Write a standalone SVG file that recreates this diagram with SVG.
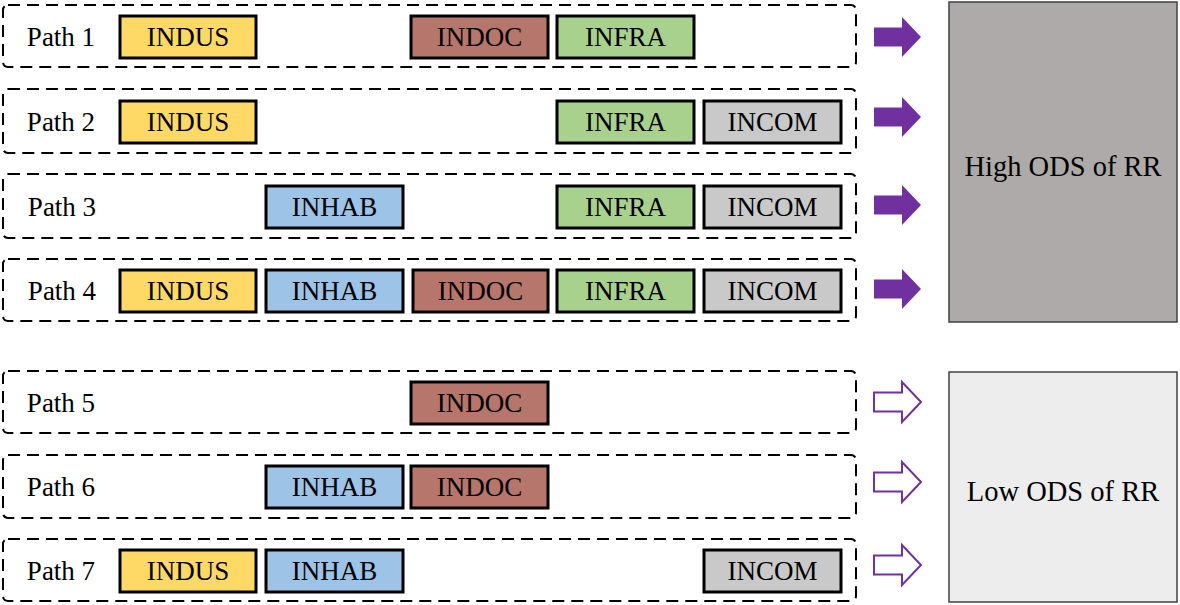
<svg xmlns="http://www.w3.org/2000/svg" width="1180" height="605" viewBox="0 0 1180 605">
<style>
.row{fill:#fff;stroke:#000;stroke-width:2;stroke-dasharray:12 7}
.b{stroke:#000;stroke-width:3}
.indus{fill:#FFD966}.inhab{fill:#9DC3E6}.indoc{fill:#B7766B}.infra{fill:#A9D18E}.incom{fill:#C9C9C9}
.af{fill:#7030A0}
.ao{fill:#fff;stroke:#7030A0;stroke-width:2}
</style>
<defs>
<path id="arr" d="M874,-9.5 H902 V-20 L921,0 L902,20 V9.5 H874 Z"/>
</defs>
<g id="path1">
<rect class="row" x="3" y="5" width="853" height="62" rx="5"/>
<rect class="b indus" x="120" y="16" width="136" height="42"/>
<rect class="b indoc" x="411" y="16" width="137" height="42"/>
<rect class="b infra" x="557" y="16" width="137" height="42"/>
<g font-family="Liberation Serif" font-size="27" text-anchor="middle">
<text x="61" y="46">Path 1</text><text x="188" y="46">INDUS</text><text x="479.5" y="46">INDOC</text><text x="625.5" y="46">INFRA</text>
</g>
</g>
<g id="path2">
<rect class="row" x="3" y="89" width="853" height="64" rx="5"/>
<rect class="b indus" x="120" y="101" width="136" height="42"/>
<rect class="b infra" x="557" y="101" width="137" height="42"/>
<rect class="b incom" x="704" y="101" width="137" height="42"/>
<g font-family="Liberation Serif" font-size="27" text-anchor="middle">
<text x="61" y="131">Path 2</text><text x="188" y="131">INDUS</text><text x="625.5" y="131">INFRA</text><text x="772.5" y="131">INCOM</text>
</g>
</g>
<g id="path3">
<rect class="row" x="3" y="174" width="853" height="64" rx="5"/>
<rect class="b inhab" x="266" y="186" width="137" height="42"/>
<rect class="b infra" x="557" y="186" width="137" height="42"/>
<rect class="b incom" x="704" y="186" width="137" height="42"/>
<g font-family="Liberation Serif" font-size="27" text-anchor="middle">
<text x="62" y="216">Path 3</text><text x="334.5" y="216">INHAB</text><text x="625.5" y="216">INFRA</text><text x="772.5" y="216">INCOM</text>
</g>
</g>
<g id="path4">
<rect class="row" x="3" y="259" width="853" height="62" rx="5"/>
<rect class="b indus" x="120" y="270" width="136" height="42"/>
<rect class="b inhab" x="266" y="270" width="137" height="42"/>
<rect class="b indoc" x="413" y="270" width="135" height="42"/>
<rect class="b infra" x="557" y="270" width="137" height="42"/>
<rect class="b incom" x="704" y="270" width="137" height="42"/>
<g font-family="Liberation Serif" font-size="27" text-anchor="middle">
<text x="62" y="300">Path 4</text><text x="188" y="300">INDUS</text><text x="334.5" y="300">INHAB</text><text x="480.5" y="300">INDOC</text><text x="625.5" y="300">INFRA</text><text x="772.5" y="300">INCOM</text>
</g>
</g>
<g id="path5">
<rect class="row" x="3" y="371" width="853" height="62" rx="5"/>
<rect class="b indoc" x="411" y="382" width="137" height="42"/>
<g font-family="Liberation Serif" font-size="27" text-anchor="middle">
<text x="61" y="412">Path 5</text><text x="479.5" y="412">INDOC</text>
</g>
</g>
<g id="path6">
<rect class="row" x="3" y="455" width="853" height="63" rx="5"/>
<rect class="b inhab" x="266" y="466" width="137" height="42"/>
<rect class="b indoc" x="411" y="466" width="137" height="42"/>
<g font-family="Liberation Serif" font-size="27" text-anchor="middle">
<text x="61" y="496">Path 6</text><text x="334.5" y="496">INHAB</text><text x="479.5" y="496">INDOC</text>
</g>
</g>
<g id="path7">
<rect class="row" x="3" y="539" width="853" height="62" rx="5"/>
<rect class="b indus" x="120" y="550" width="136" height="42"/>
<rect class="b inhab" x="266" y="550" width="137" height="42"/>
<rect class="b incom" x="704" y="550" width="137" height="42"/>
<g font-family="Liberation Serif" font-size="27" text-anchor="middle">
<text x="61" y="580">Path 7</text><text x="188" y="580">INDUS</text><text x="334.5" y="580">INHAB</text><text x="772.5" y="580">INCOM</text>
</g>
</g>
<g id="high">
<rect x="949" y="2" width="228" height="320" fill="#ADAAA9" stroke="#404040" stroke-width="1.5"/>
<text x="1063" y="176" font-family="Liberation Serif" font-size="28.5" text-anchor="middle">High ODS of RR</text>
</g>
<g id="low">
<rect x="949" y="372" width="228" height="230" fill="#EDEDED" stroke="#404040" stroke-width="1.5"/>
<text x="1063" y="501" font-family="Liberation Serif" font-size="28.5" text-anchor="middle">Low ODS of RR</text>
</g>
<g id="connectors">
<use href="#arr" class="af" transform="translate(0,37)"/>
<use href="#arr" class="af" transform="translate(0,117)"/>
<use href="#arr" class="af" transform="translate(0,205)"/>
<use href="#arr" class="af" transform="translate(0,289)"/>
<use href="#arr" class="ao" transform="translate(0,402)"/>
<use href="#arr" class="ao" transform="translate(0,482)"/>
<use href="#arr" class="ao" transform="translate(0,565)"/>
</g>
</svg>
